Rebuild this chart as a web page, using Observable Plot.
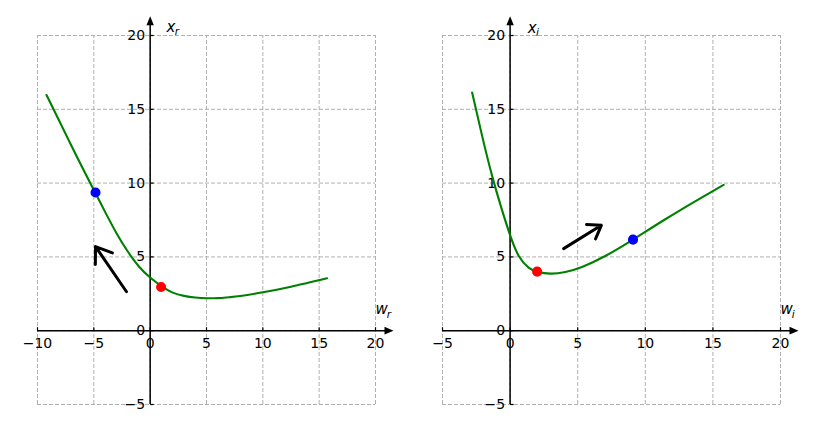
<!DOCTYPE html>
<html><head><meta charset="utf-8">
<script src="https://cdn.jsdelivr.net/npm/d3@7"></script>
<script src="https://cdn.jsdelivr.net/npm/@observablehq/plot@0.6"></script>
<style>
html,body{margin:0;padding:0;background:#fff;}
#wrap{display:flex;width:831px;height:427px;overflow:hidden;}
#wrap svg{display:block;flex:none;}
</style></head><body><div id="wrap"></div>
<script>
// ---- data ----
const leftCurveW = [-9.2, -8, -7, -6, -5, -4, -3, -2, -1, 0, 1, 2, 3, 4, 5, 6, 7, 8, 10, 12.5, 15.7];
const leftCurveX = [15.97, 14.1, 12.55, 11.02, 9.53, 8.05, 6.62, 5.38, 4.35, 3.6, 3.02, 2.58, 2.36, 2.25, 2.2, 2.21, 2.27, 2.35, 2.6, 2.98, 3.55];
const rightCurveW = [-2.81, -2.07, -1.33, -0.59, 0.02, 0.64, 1.37, 2.0, 2.98, 4.09, 5.32, 7.04, 9.09, 11.48, 13.94, 15.79];
const rightCurveX = [16.14, 13.2, 10.49, 8.15, 6.42, 5.06, 4.27, 4.0, 3.87, 3.98, 4.32, 5.06, 6.17, 7.55, 8.9, 9.88];

const pointColors = ["blue", "red"];
const leftPointsW = [-4.85, 0.97];
const leftPointsX = [9.36, 2.96];
const rightPointsW = [9.09, 2.0];
const rightPointsX = [6.17, 4.0];

const leftArrow = [-2.1, 2.64, -4.85, 5.7];   // x1, y1, x2, y2
const rightArrow = [3.96, 5.56, 6.75, 7.14];

const leftXTicks = [-10, -5, 0, 5, 10, 15, 20];
const rightXTicks = [-5, 0, 5, 10, 15, 20];
const yTicks = [-5, 0, 5, 10, 15, 20];

// symbol, subscript, x, y, subscript offset
const leftLabels = [["x", "r", 1.45, 20.27, 8.2], ["w", "r", 20, 1.1, 11.2]];
const rightLabels = [["x", "i", 1.3, 20.2, 8.2], ["w", "i", 20, 1.1, 11.2]];

const leftAxisEnds = [21.2, 21.0];   // x-axis arrow, y-axis arrow
const rightAxisEnds = [21.0, 21.0];

// ---- helpers ----
const fmt = d => d < 0 ? "\u2212" + Math.abs(d) : String(d);
const tickUp = {draw(c) { c.moveTo(0, 0); c.lineTo(0, -3.5); }};
const tickRight = {draw(c) { c.moveTo(0, 0); c.lineTo(3.5, 0); }};
const triRight = {draw(c) { c.moveTo(4.5, 0); c.lineTo(-4.5, -3.9); c.lineTo(-4.5, 3.9); c.closePath(); }};
const triUp = {draw(c) { c.moveTo(0, -4.5); c.lineTo(-3.7, 4.5); c.lineTo(3.7, 4.5); c.closePath(); }};

function panel(cfg) {
  const xmin = cfg.xTicks[0], xmax = cfg.xTicks[cfg.xTicks.length - 1];
  const ymin = yTicks[0], ymax = yTicks[yTicks.length - 1];
  const curve = cfg.cw.map((w, i) => ({w, x: cfg.cx[i]}));
  const pts = cfg.pw.map((w, i) => ({w, x: cfg.px[i], c: pointColors[i]}));
  const arr = [{x1: cfg.arrow[0], y1: cfg.arrow[1], x2: cfg.arrow[2], y2: cfg.arrow[3]}];
  const labs = cfg.labels.map(l => ({t: l[0], s: l[1], x: l[2], y: l[3], o: l[4]}));
  const grid = {stroke: "#b0b0b0", strokeWidth: 1, strokeDasharray: "4,2"};
  const subMarks = labs.map(l => Plot.text([l], {x: "x", y: "y", text: "s", textAnchor: "start", lineAnchor: "bottom", fontStyle: "italic", fontSize: 10.5, dx: l.o, dy: 3.5, fill: "black"}));
  return Plot.plot({
    width: cfg.width, height: 427,
    marginTop: 35, marginBottom: 23, marginLeft: cfg.ml, marginRight: cfg.width - cfg.ml - 338,
    x: {domain: [xmin, xmax], axis: null},
    y: {domain: [ymin, ymax], axis: null},
    color: {type: "identity"},
    style: {fontFamily: "DejaVu Sans", fontSize: "13.9px", background: "white", overflow: "visible", color: "black"},
    marks: [
      Plot.ruleX(cfg.xTicks, {x: d => d, y1: ymin, y2: ymax, ...grid}),
      Plot.ruleY(yTicks, {y: d => d, x1: xmin, x2: xmax, ...grid}),
      Plot.ruleY([0], {x1: xmin, x2: cfg.ends[0], stroke: "black", strokeWidth: 1.5}),
      Plot.ruleX([0], {y1: ymin, y2: cfg.ends[1], stroke: "black", strokeWidth: 1.5}),
      Plot.dot([0], {x: cfg.ends[0], y: 0, symbol: triRight, fill: "black", stroke: "none", r: 4}),
      Plot.dot([0], {x: 0, y: cfg.ends[1], symbol: triUp, fill: "black", stroke: "none", r: 4}),
      Plot.dot(cfg.xTicks, {x: d => d, y: 0, symbol: tickUp, fill: "none", stroke: "black", strokeWidth: 1.2, r: 3}),
      Plot.dot(yTicks, {x: 0, y: d => d, symbol: tickRight, fill: "none", stroke: "black", strokeWidth: 1.2, r: 3}),
      Plot.text(cfg.xTicks, {x: d => d, y: 0, text: fmt, lineAnchor: "top", dy: 7, fontSize: 14, fill: "black"}),
      Plot.text(yTicks, {x: 0, y: d => d, text: fmt, textAnchor: "end", lineAnchor: "middle", dx: -5, fontSize: 14, fill: "black"}),
      Plot.line(curve, {x: "w", y: "x", stroke: "green", strokeWidth: 2.1, curve: "natural"}),
      Plot.dot(pts, {x: "w", y: "x", fill: "c", stroke: "c", r: 4.3}),
      Plot.arrow(arr, {x1: "x1", y1: "y1", x2: "x2", y2: "y2", stroke: "black", strokeWidth: 3, headLength: 9, headAngle: 70}),
      Plot.text(labs, {x: "x", y: "y", text: "t", textAnchor: "start", lineAnchor: "bottom", fontStyle: "italic", fontSize: 15, fill: "black"}),
      ...subMarks
    ]
  });
}

const wrap = document.getElementById("wrap");
wrap.appendChild(panel({width: 415, ml: 37, xTicks: leftXTicks, cw: leftCurveW, cx: leftCurveX, pw: leftPointsW, px: leftPointsX, arrow: leftArrow, labels: leftLabels, ends: leftAxisEnds}));
wrap.appendChild(panel({width: 416, ml: 27, xTicks: rightXTicks, cw: rightCurveW, cx: rightCurveX, pw: rightPointsW, px: rightPointsX, arrow: rightArrow, labels: rightLabels, ends: rightAxisEnds}));
</script>
</body></html>
